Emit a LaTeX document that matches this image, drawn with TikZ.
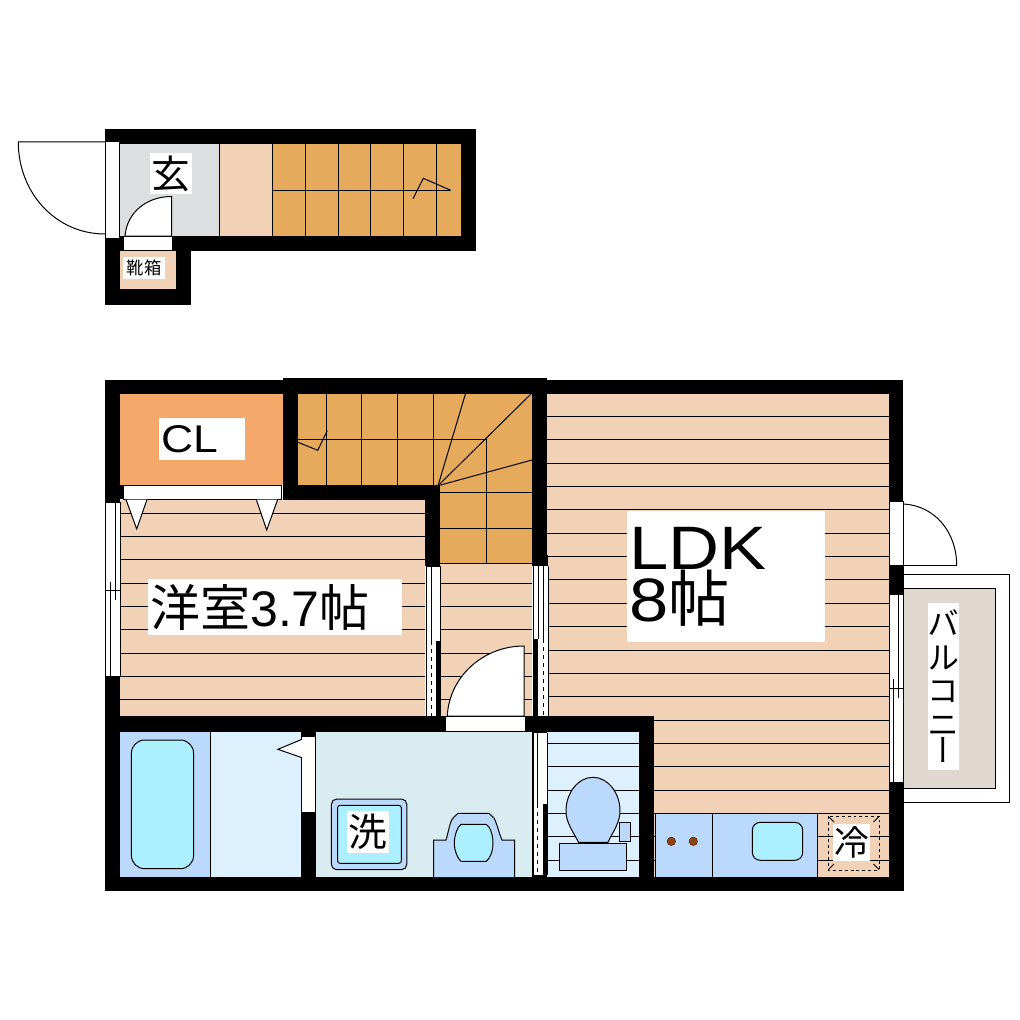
\documentclass[tikz,border=0pt]{standalone}
\usepackage{fontspec}
\setmainfont{Liberation Sans}
\newfontfamily\cjk{Noto Sans CJK JP}
\newfontfamily\cjkv[RawFeature=+vert]{Noto Sans CJK JP}
\newfontfamily\wide[FakeStretch=1.15]{Liberation Sans}
\newcommand{\pxfont}[2]{\fontsize{#1}{#2}\selectfont}
\definecolor{beige}{HTML}{F2D2B6}
\definecolor{closet}{HTML}{F4A96B}
\definecolor{stair}{HTML}{E5AA5C}
\definecolor{entry}{HTML}{DCDEE0}
\definecolor{tub}{HTML}{ACF0FF}
\definecolor{fixture}{HTML}{BBDAFB}
\definecolor{bath}{HTML}{DDF0FE}
\definecolor{wash}{HTML}{D9ECF2}
\definecolor{balc}{HTML}{E0D8CF}
\definecolor{burner}{HTML}{8B4513}
\tikzset{
  ln/.style={draw=black,line width=.75pt},
  thin ln/.style={draw=black,line width=.6pt},
  wall/.style={fill=black},
  lbl/.style 2 args={fill=white,inner sep=0pt,minimum width=#1*.75pt,minimum height=#2*.75pt,anchor=north west},
  dashln/.style={draw=black,line width=.75pt,dash pattern=on 3pt off 3pt},
}
\begin{document}
\begin{tikzpicture}[x=.75pt,y=-.75pt]
\useasboundingbox (0,0) rectangle (1020,1020);
\fill[white] (0,0) rectangle (1020,1020);
% ---- upper floor fills
\fill[entry] (120,144) rectangle (219.5,236);
\fill[beige] (219.5,144) rectangle (272.5,236);
\fill[stair] (272.5,144) rectangle (461,236);
\fill[beige] (120,250.7) rectangle (176,289);
\draw[ln] (219.5,144) -- (219.5,236);
\draw[ln] (272.5,144) -- (272.5,236);
\foreach \x in {305.7,338.7,370.3,403.7,436.7} \draw[ln] (\x,144) -- (\x,236);
\draw[ln] (272.5,190.3) -- (450.7,190.3);
\draw[ln] (413,198.7) -- (423.3,178.3) -- (450.7,190.3);
% upper walls
\fill[wall] (105,129) rectangle (476,144);
\fill[wall] (461,129) rectangle (476,250.7);
\fill[wall] (105,236) rectangle (476,250.7);
\fill[wall] (105,129) rectangle (120,304.7);
\fill[wall] (176,236) rectangle (191,304.7);
\fill[wall] (105,289) rectangle (191,304.7);
% entry door
\filldraw[fill=white,ln] (105.5,142) rectangle (119.5,238);
\draw[ln] (105,142) -- (18.3,142) .. controls (18.3,193) and (56,234) .. (105,234);
% shoe closet opening and door
\filldraw[fill=white,ln] (123,236) rectangle (172,250.7);
\filldraw[fill=white,ln] (125,236) .. controls (127,212) and (147,196.5) .. (171.5,196.5) -- (171.5,236) -- cycle;
\node[lbl={42}{41}] (genkan) at (150,153) {\pxfont{29pt}{29pt}\cjk 玄};
\node[lbl={42}{22}] (kutsubako) at (123,257) {\pxfont{13pt}{13pt}\cjk 靴箱};
% ---- lower floor fills
\fill[closet] (120,394) rectangle (283,485);
\fill[stair] (298,393) rectangle (532,485);
\fill[stair] (440,485) rectangle (532,563);
\fill[beige] (120,500) rectangle (425,716);
\fill[beige] (440,563) rectangle (532,716);
\fill[beige] (547,394) rectangle (889,877);
\fill[bath] (210.7,732) rectangle (301,877);
\fill[fixture] (120,732) rectangle (210.7,877);
\fill[wash] (316,732) rectangle (532,877);
\fill[bath] (547,731) rectangle (639,877);
% stair lines
\foreach \x in {326.7,361.3,397.3,433.3} \draw[ln] (\x,393) -- (\x,485);
\draw[ln] (298,439.3) -- (486.3,439.3) -- (486.3,563);
\draw[ln] (440,492.3) -- (532,492.3);
\draw[ln] (440,528.7) -- (532,528.7);
\draw[ln] (440,563) -- (532,563);
\draw[ln] (438,485.7) -- (465.7,393);
\draw[ln] (438,485.7) -- (532,393);
\draw[ln] (438,485.7) -- (532,460);
\draw[ln] (327.3,430.7) -- (317.7,450.3) -- (298,442.3);
% floor lines
\foreach \k in {0,...,8} \draw[ln] (120,513.3+23.33*\k) -- (425,513.3+23.33*\k);
\foreach \k in {3,...,8} \draw[ln] (440,513.3+23.33*\k) -- (532,513.3+23.33*\k);
\foreach \k in {0,...,19} \draw[ln] (547,416.5+23.35*\k) -- (889,416.5+23.35*\k);
% lower walls
\fill[wall] (105,380) rectangle (903,394);
\fill[wall] (283,378) rectangle (547,393);
\fill[wall] (105,380) rectangle (120,891);
\fill[wall] (889,380) rectangle (903,891);
\fill[wall] (105,877) rectangle (903,891);
\fill[wall] (283,380) rectangle (298,500);
\fill[wall] (283,485) rectangle (440,500);
\fill[wall] (425,485) rectangle (440,566);
\fill[wall] (532,380) rectangle (547,566);
\fill[wall] (105,716) rectangle (654,731.7);
\fill[wall] (639,716) rectangle (654,891);
\fill[wall] (301,731) rectangle (316,891);
\fill[wall] (532,731) rectangle (547,891);
\fill[wall] (120,485) rectangle (123,499);
% closet opening and doors
\filldraw[fill=white,ln] (123,485) rectangle (281,499.3);
\filldraw[fill=white,ln] (126,499.5) -- (136.7,529) -- (147,499.5);
\filldraw[fill=white,ln] (256.3,499.5) -- (266.7,530) -- (277.7,499.5);
% left window
\filldraw[fill=white,ln] (105.5,502.7) rectangle (120,676);
\draw[ln] (115,502.7) -- (115,600);
\draw[ln] (110,581.7) -- (110,676);
\draw[ln] (105,590) -- (120,590);
% sliding door: room / hall
\fill[white] (426,566) rectangle (440.5,716);
\draw[ln] (426,566) -- (426,716);
\draw[ln] (440.5,566) -- (440.5,716);
\draw[ln] (426,566) -- (440.5,566);
\draw[ln] (431.7,566) -- (431.7,641);
\draw[dashln] (431.7,641) -- (431.7,716);
\fill[wall] (436,641) rectangle (440.7,716);
% sliding door: hall / LDK
\fill[wall] (532,555) rectangle (548,566);
\fill[white] (533,566) rectangle (548,716);
\draw[ln] (533,566) -- (533,716);
\draw[ln] (548,566) -- (548,716);
\draw[ln] (538.5,566) -- (538.5,639);
\draw[ln] (543.3,566) -- (543.3,639);
\draw[dashln] (543.3,639) -- (543.3,716);
\fill[wall] (532.7,639) rectangle (538,716);
% hall door
\filldraw[fill=white,ln] (445,716) rectangle (525,731);
\filldraw[fill=white,ln] (447.3,716) .. controls (449,678) and (482,646) .. (524,646) -- (524,716) -- cycle;
% bath door
\filldraw[fill=white,ln] (301.8,736) rectangle (315.6,812);
\filldraw[fill=white,ln] (302,739.3) -- (277.9,749.3) -- (302,757.7);
\draw[ln] (210.7,732) -- (210.7,877);
\filldraw[fill=tub,ln,rounded corners=10pt] (131.4,740) rectangle (193.6,868.7);
% wash / toilet door
\fill[white] (533,733) rectangle (547,875);
\draw[ln] (533,733) -- (533,875);
\draw[ln] (547,733) -- (547,875);
\draw[ln] (537.5,733) -- (537.5,804);
\draw[dashln] (537.5,804) -- (537.5,875);
\fill[wall] (542.9,804) rectangle (547,877);
% laundry
\filldraw[fill=fixture,ln,rounded corners=4pt] (331.4,799) rectangle (406.8,869.7);
\filldraw[fill=tub,ln,rounded corners=2pt] (337.5,805.3) rectangle (401.4,863.3);
\node[lbl={42}{42}] (sentaku) at (347,811) {\pxfont{29pt}{29pt}\cjk 洗};
% wash basin
\filldraw[fill=fixture,ln] (433.6,877) -- (433.6,840) -- (446,840) .. controls (449,830) and (450,820) .. (454,817) -- (458,813.3) -- (489,813.3) -- (494,818) .. controls (498,826) and (499,834) .. (502,840) -- (514.6,840) -- (514.6,877);
\filldraw[fill=tub,ln] (461,824.3) -- (486,824.3) .. controls (490,826) and (493,835) .. (493,843) .. controls (493,851) and (490,859) .. (486,861.3) -- (461,861.3) .. controls (458,859) and (454.3,851) .. (454.3,843) .. controls (454.3,835) and (458,826) .. (461,824.3) -- cycle;
% toilet
\filldraw[fill=fixture,ln] (578.6,842.3) .. controls (572,830) and (566,822) .. (566,811) .. controls (566,793) and (578,777.3) .. (593,777.3) .. controls (608,777.3) and (620,793) .. (620,811) .. controls (620,822) and (614,830) .. (607.9,842.3) -- cycle;
\filldraw[fill=fixture,ln] (559.3,843.3) rectangle (626.8,870.7);
\filldraw[fill=fixture,ln] (619.3,822.3) rectangle (630.7,841.3);
% kitchen
\filldraw[fill=fixture,ln] (655,813.3) rectangle (817.7,877);
\draw[ln] (712.3,813.3) -- (712.3,877);
\filldraw[fill=tub,ln,rounded corners=6pt] (752.3,822.3) rectangle (802.7,860.3);
\filldraw[fill=burner,draw=burner!70!black,line width=.5pt] (671.3,841.3) circle (4.2);
\filldraw[fill=burner,draw=burner!70!black,line width=.5pt] (693.3,841.3) circle (4.2);
% fridge
\draw[dashln,line width=.6pt,dash pattern=on 2.2pt off 2.2pt] (828.3,816) rectangle (879.3,870);
\foreach \a/\b/\c/\d in {828.5/816.5/834/822, 879/816.5/873.5/822, 828.5/869.5/834/864, 879/869.5/873.5/864} \draw[thin ln] (\a,\b) -- (\c,\d);
\node[lbl={37}{36.3}] (reizo) at (833,824) {\pxfont{26pt}{26pt}\cjk 冷};
% right door and window
\filldraw[fill=white,ln] (889.3,501.7) rectangle (903.5,565.7);
\draw[ln] (903.5,565.7) -- (957,565.7);
\draw[ln] (904,504) .. controls (935,506) and (956.7,532) .. (956.7,565.7);
\filldraw[fill=white,ln] (903,574.3) rectangle (1009.3,802.3);
\fill[balc] (903,588.3) rectangle (995.3,788.3);
\draw[ln] (903,588.3) -- (995.3,588.3) -- (995.3,788.3) -- (903,788.3);
\fill[wall] (889,566) rectangle (903.7,594);
\fill[wall] (889,783) rectangle (903.7,891);
\filldraw[fill=white,ln] (889.3,594) rectangle (903.3,782.7);
\draw[ln] (898.3,594) -- (898.3,698);
\draw[ln] (893.3,679.3) -- (893.3,782.7);
\draw[ln] (889,688) -- (903.3,688);
% labels
\node[lbl={84}{42.3},align=left,text width=82*.75pt,inner xsep=1.5pt] (cl) at (159,417.7) {\pxfont{29pt}{29pt}\wide CL};
\node[lbl={253}{56},align=left,text width=250*.75pt,inner xsep=1.5pt] (yoshitsu) at (148,579) {\pxfont{37.5pt}{38pt}{\cjk 洋室}3.7{\cjk 帖}};
\node[lbl={197}{131},align=left,text width=194*.75pt,inner xsep=1.5pt] (ldk) at (627,511) {\pxfont{46pt}{52.5pt}\wide LDK\\8{\cjk 帖}};
\node[lbl={31.7}{167.4},align=center,text width=31.7*.75pt] (balcony) at (927.3,602.3) {\pxfont{24pt}{25.1pt}\cjkv バ\\ル\\コ\\ニ\\ー};
\end{tikzpicture}
\end{document}
